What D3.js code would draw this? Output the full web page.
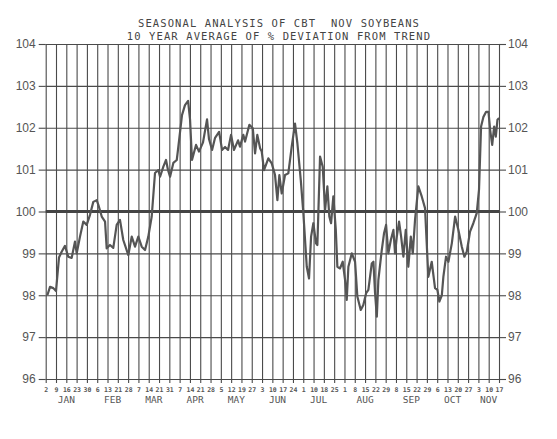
<!DOCTYPE html>
<html><head><meta charset="utf-8">
<script src="https://cdn.jsdelivr.net/npm/d3@7"></script>
<style>
html,body{margin:0;padding:0;background:#fff;}
svg{display:block;}
</style></head>
<body>
<svg id="c" width="557" height="439"></svg>
<script>
// ---- data ----
const titleLines = ["SEASONAL ANALYSIS OF CBT  NOV SOYBEANS", "10 YEAR AVERAGE OF % DEVIATION FROM TREND"];
const yTicks = [96, 97, 98, 99, 100, 101, 102, 103, 104];
const weekLabels = ["2","9","16","23","30","6","13","21","28","7","14","21","31","7","14","21","28","5","12","19","27","3","10","17","24","1","10","18","25","1","8","15","22","29","8","15","22","29","6","13","20","27","3","10","17"];
const months = ["JAN","FEB","MAR","APR","MAY","JUN","JUL","AUG","SEP","OCT","NOV"];
const weeksPerMonth = [5,4,4,4,4,4,4,5,4,4,3];
// position in weeks from Jan 2, and % deviation from trend
const weekPos = [0.16,0.42,0.74,1.0,1.29,1.55,1.87,2.19,2.52,2.84,3.01,3.33,3.65,3.98,4.30,4.62,4.95,5.11,5.44,5.76,5.92,6.24,6.56,6.89,7.21,7.53,8.02,8.35,8.67,8.99,9.32,9.64,9.96,10.29,10.61,10.93,11.10,11.42,11.68,11.87,12.07,12.39,12.72,12.84,13.23,13.52,13.82,14.01,14.20,14.59,14.88,15.27,15.66,15.85,16.15,16.44,16.83,17.12,17.41,17.70,17.99,18.28,18.67,18.86,19.18,19.35,19.77,20.10,20.32,20.54,20.81,20.97,21.19,21.61,21.94,22.26,22.49,22.68,22.91,23.23,23.55,23.88,24.20,24.43,24.76,25.01,25.34,25.56,25.76,25.98,26.24,26.37,26.63,26.89,27.12,27.34,27.53,27.70,27.92,28.16,28.31,28.57,28.83,29.06,29.22,29.38,29.71,30.03,30.25,30.58,30.83,31.10,31.32,31.65,31.81,31.97,32.14,32.29,32.62,32.84,33.04,33.26,33.50,33.75,33.91,34.08,34.30,34.50,34.72,34.95,35.20,35.44,35.63,35.85,36.17,36.50,36.82,37.14,37.47,37.79,38.02,38.21,38.45,38.60,38.86,39.09,39.42,39.74,40.06,40.39,40.64,40.87,41.19,41.51,41.84,42.06,42.26,42.49,42.75,42.98,43.14,43.34,43.53,43.69,43.85,44.01];
const deviation = [98.0,98.2,98.17,98.1,98.9,99.04,99.18,98.92,98.89,99.28,99.0,99.4,99.76,99.68,99.92,100.23,100.27,100.16,99.88,99.76,99.12,99.2,99.13,99.68,99.8,99.32,98.96,99.4,99.16,99.4,99.16,99.08,99.4,99.88,100.92,100.99,100.83,101.07,101.23,100.99,100.83,101.16,101.23,101.47,102.3,102.54,102.64,102.2,101.23,101.59,101.43,101.65,102.2,101.73,101.47,101.76,101.9,101.47,101.54,101.47,101.83,101.47,101.7,101.55,101.83,101.67,102.07,101.99,101.39,101.83,101.51,101.43,100.99,101.27,101.15,100.87,100.27,100.87,100.43,100.87,100.91,101.55,102.1,101.63,100.75,99.96,98.68,98.4,99.4,99.72,99.24,99.2,101.31,101.07,100.04,100.6,99.88,99.72,100.36,99.56,98.68,98.64,98.8,98.36,97.89,98.68,99.0,98.8,97.97,97.65,97.77,98.05,98.13,98.76,98.8,98.05,97.49,98.36,99.08,99.48,99.68,99.0,99.32,99.56,99.0,99.4,99.76,99.4,98.92,99.56,98.68,99.4,99.0,99.8,100.6,100.36,100.08,98.44,98.8,98.17,98.13,97.85,98.0,98.44,98.92,98.8,99.24,99.88,99.56,99.16,98.92,99.04,99.52,99.72,99.96,100.52,102.03,102.26,102.38,102.38,101.95,101.59,102.03,101.79,102.19,102.23];

// ---- layout ----
const L = 45.7, R = 499, T = 44, B = 379;
const ink = "#4a4a4a";
const svg = d3.select("#c");
const x = d3.scaleLinear().domain([0, weekLabels.length - 1]).range([L, R]);
const y = d3.scaleLinear().domain([96, 104]).range([B, T]);
const weekIdx = d3.range(weekLabels.length);

// title
svg.append("g").selectAll("text").data(titleLines).join("text")
  .attr("x", 279).attr("y", (d, i) => 27 + i * 12.5)
  .attr("text-anchor", "middle")
  .attr("font-family", "DejaVu Sans Mono").attr("font-size", 10.5)
  .attr("letter-spacing", 1.1)
  .attr("fill", "#444")
  .style("white-space", "pre")
  .text(d => d);

// vertical grid + bottom ticks
const gx = svg.append("g").attr("transform", `translate(0,${B})`)
  .call(d3.axisBottom(x).tickValues(weekIdx).tickSizeInner(-(B - T)).tickSizeOuter(0).tickFormat(""));
gx.select(".domain").remove();
gx.selectAll("line").attr("stroke", ink).attr("stroke-width", 1.1);
const gxl = svg.append("g").attr("transform", `translate(0,${B})`)
  .call(d3.axisBottom(x).tickValues(weekIdx).tickSize(4).tickPadding(4).tickFormat(i => weekLabels[i]));
gxl.select(".domain").remove();
gxl.selectAll("line").attr("stroke", ink).attr("stroke-width", 1.1);
gxl.selectAll("text").attr("font-family", "DejaVu Sans Mono").attr("font-size", 6.5)
  .attr("font-weight", "bold").attr("fill", "#555");

// month labels
let start = 0;
const monthPos = weeksPerMonth.map(n => { const c = start + (n - 1) / 2; start += n; return c; });
svg.append("g").selectAll("text").data(months).join("text")
  .attr("x", (d, i) => x(monthPos[i])).attr("y", 403)
  .attr("text-anchor", "middle")
  .attr("font-family", "DejaVu Sans Mono").attr("font-size", 9.5)
  .attr("fill", "#555")
  .text(d => d);

// horizontal grid
const gy = svg.append("g").attr("transform", `translate(${L},0)`)
  .call(d3.axisLeft(y).tickValues(yTicks).tickSizeInner(-(R - L)).tickSizeOuter(0).tickFormat(""));
gy.select(".domain").remove();
gy.selectAll("line").attr("stroke", ink).attr("stroke-width", 1.1);

// left labels
const gyl = svg.append("g").attr("transform", `translate(${L},0)`)
  .call(d3.axisLeft(y).tickValues(yTicks).tickSize(7).tickPadding(3).tickFormat(d3.format("d")));
gyl.select(".domain").remove();
gyl.selectAll("line").attr("stroke", ink).attr("stroke-width", 1.1);
gyl.selectAll("text").attr("font-family", "Liberation Sans").attr("font-size", 12).attr("fill", "#555");

// right labels
const gyr = svg.append("g").attr("transform", `translate(${R},0)`)
  .call(d3.axisRight(y).tickValues(yTicks).tickSize(7).tickPadding(2).tickFormat(d3.format("d")));
gyr.select(".domain").remove();
gyr.selectAll("line").attr("stroke", ink).attr("stroke-width", 1.1);
gyr.selectAll("text").attr("font-family", "Liberation Sans").attr("font-size", 12).attr("fill", "#555");

// 100 baseline
svg.append("line").attr("x1", L).attr("x2", R).attr("y1", y(100)).attr("y2", y(100))
  .attr("stroke", "#444").attr("stroke-width", 3);

// series
const pts = weekPos.map((w, i) => [w, deviation[i]]);
svg.append("path").datum(pts)
  .attr("fill", "none").attr("stroke", "#555").attr("stroke-width", 2.2)
  .attr("stroke-linejoin", "round")
  .attr("d", d3.line().x(d => x(d[0])).y(d => y(d[1])));
</script>
</body></html>
